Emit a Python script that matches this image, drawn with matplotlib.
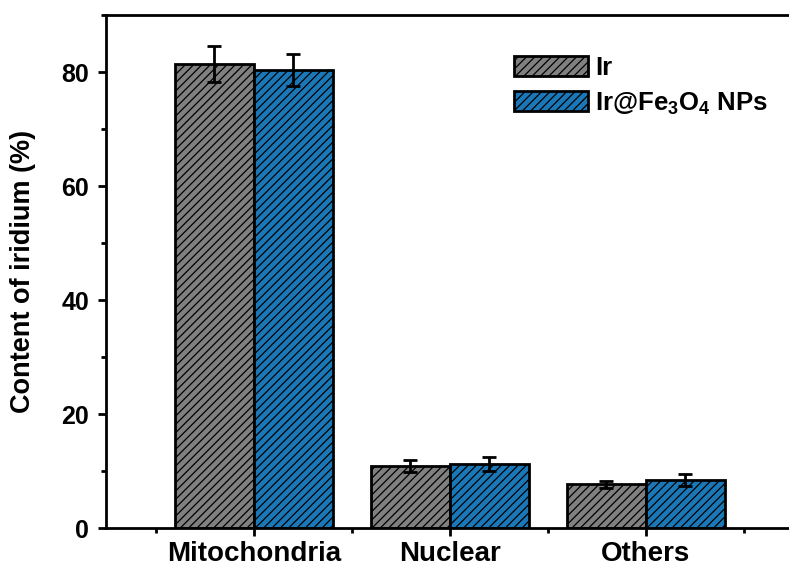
import numpy as np
import matplotlib.pyplot as plt
from matplotlib.ticker import MultipleLocator, FixedLocator

plt.rcParams['font.family'] = 'Liberation Sans'
plt.rcParams['font.weight'] = 'bold'
plt.rcParams['mathtext.fontset'] = 'custom'
plt.rcParams['mathtext.bf'] = 'Liberation Sans:bold'
plt.rcParams['mathtext.rm'] = 'Liberation Sans:bold'
plt.rcParams['hatch.linewidth'] = 0.9

# data
categories = ['Mitochondria', 'Nuclear', 'Others']
ir_vals = [81.4, 10.9, 7.7]
ir_err = [3.1, 1.0, 0.6]
fe_vals = [80.4, 11.2, 8.4]
fe_err = [2.8, 1.2, 1.0]
labels = ['Ir', r'Ir@Fe$_\mathregular{3}$O$_\mathregular{4}$ NPs']

fig = plt.figure(figsize=(7.89, 5.69), dpi=100)
ax = fig.add_axes([0.1343, 0.072, 0.8657, 0.9016])

x = np.arange(len(categories))
w = 0.403
ekw = dict(elinewidth=2, capthick=2, ecolor='black')
ax.bar(x - w/2, ir_vals, w, yerr=ir_err, capsize=5, color='#808080',
       edgecolor='black', linewidth=2, hatch='////', label=labels[0], error_kw=ekw)
ax.bar(x + w/2, fe_vals, w, yerr=fe_err, capsize=5, color='#1a78b8',
       edgecolor='black', linewidth=2, hatch='////', label=labels[1], error_kw=ekw)

ax.set_xlim(-0.755, 2.73)
ax.set_ylim(0, 90)
ax.set_xticks(x)
ax.set_xticklabels(categories, fontsize=20, fontweight='bold')
ax.xaxis.set_minor_locator(FixedLocator([-0.5, 0.5, 1.5, 2.5]))
ax.yaxis.set_major_locator(MultipleLocator(20))
ax.yaxis.set_minor_locator(MultipleLocator(10))
ax.tick_params(axis='both', which='major', direction='out', length=6, width=2)
ax.tick_params(axis='both', which='minor', direction='out', length=3.5, width=2)
ax.tick_params(axis='y', which='major', labelsize=18, pad=6)
ax.tick_params(axis='x', which='major', pad=3)
ax.tick_params(top=False, right=False, which='both')
for lbl in ax.get_yticklabels():
    lbl.set_fontweight('bold')
ax.set_ylabel('Content of iridium (%)', fontsize=19.5, fontweight='bold')
ax.yaxis.set_label_coords(-0.102, 0.5)

for s in ['left', 'bottom', 'top']:
    ax.spines[s].set_linewidth(2)
ax.spines['right'].set_visible(False)

ax.legend(loc='upper left', bbox_to_anchor=(0.597, 0.921), frameon=False,
          borderaxespad=0, borderpad=0,
          prop={'size': 18.5, 'weight': 'bold'}, handlelength=2.88, handleheight=0.82,
          handletextpad=0.3, labelspacing=0.42)

fig.savefig('out.png', dpi=100)
